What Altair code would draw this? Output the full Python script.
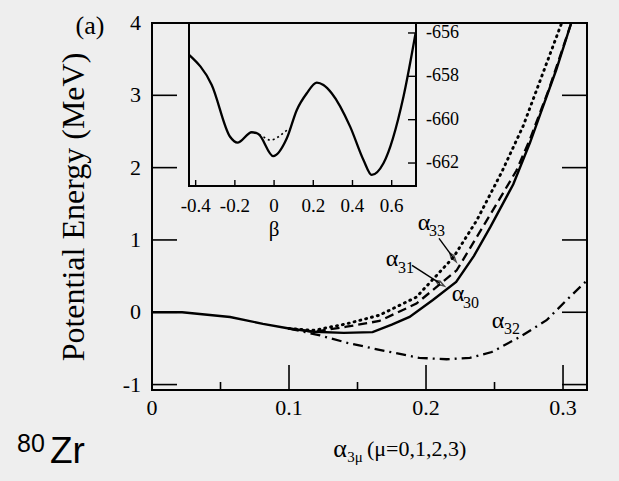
import altair as alt
import pandas as pd

# ---------------- main panel data (alpha_3mu, potential energy in MeV) -------------
a30_x = [0, 0.022, 0.033, 0.057, 0.081, 0.1, 0.118, 0.14, 0.161, 0.175, 0.188, 0.205,
         0.222, 0.235, 0.247, 0.2637, 0.276, 0.283, 0.295, 0.306, 0.312]
a30_y = [0, 0, -0.02, -0.065, -0.16, -0.225, -0.27, -0.285, -0.275, -0.17, -0.065, 0.17,
         0.42, 0.78, 1.18, 1.77, 2.35, 2.72, 3.35, 4.0, 4.3]

a31_x = [0.1, 0.118, 0.142, 0.166, 0.193, 0.2224, 0.2516, 0.266, 0.276, 0.29, 0.306, 0.312]
a31_y = [-0.225, -0.27, -0.2, -0.12, 0.12, 0.58, 1.5, 1.96, 2.4, 3.1, 4.0, 4.3]

a33_x = [0.1, 0.118, 0.142, 0.166, 0.193, 0.22, 0.237, 0.2553, 0.271, 0.299, 0.305]
a33_y = [-0.225, -0.25, -0.16, -0.04, 0.21, 0.76, 1.27, 1.94, 2.58, 4.0, 4.3]

a32_x = [0.1, 0.1226, 0.142, 0.166, 0.195, 0.215, 0.232, 0.248, 0.2686, 0.288, 0.3027, 0.318]
a32_y = [-0.225, -0.32, -0.42, -0.52, -0.63, -0.65, -0.63, -0.55, -0.34, -0.11, 0.17, 0.45]

x_major = [0.1, 0.2, 0.3]
x_minor = [0.05, 0.15, 0.25]
x_labels = [0, 0.1, 0.2, 0.3]
x_label_text = ["0", "0.1", "0.2", "0.3"]
y_major = [-1, 0, 1, 2, 3]
y_labels = [-1, 0, 1, 2, 3, 4]
y_label_text = ["-1", "0", "1", "2", "3", "4"]

# curve labels (alpha, E): main glyph and subscript
lab_main = ["α", "α", "α", "α"]
lab_sub = ["33", "31", "30", "32"]
lab_ax = [0.1985, 0.1752, 0.2234, 0.2526]
lab_ay = [1.241, 0.731, 0.248, -0.124]
lab_sx = [0.208, 0.1854, 0.2328, 0.2628]
lab_sy = [1.117, 0.607, 0.124, -0.234]

# arrows
arr_x1 = [0.2095, 0.1898]
arr_y1 = [1.021, 0.648]
arr_x2 = [0.2197, 0.2102]
arr_y2 = [0.759, 0.40]
arr_ang = [144, 123]

# ---------------- inset data (beta, energy) -------------
in_b = [-0.432, -0.318, -0.2245, -0.187, -0.114, -0.08, -0.004, 0.065, 0.116, 0.167,
        0.218, 0.252, 0.294, 0.388, 0.456, 0.498, 0.558, 0.66, 0.722]
in_e = [-657.02, -658.40, -660.79, -661.06, -660.58, -660.66, -661.68, -660.86, -659.55,
        -658.78, -658.29, -658.4, -658.78, -660.32, -661.86, -662.55, -662.01, -658.94,
        -656.0]
dot_b = [-0.1, -0.063, -0.02, 0.022, 0.056, 0.08]
dot_e = [-660.6, -660.75, -660.94, -660.79, -660.55, -660.42]
in_xt = [-0.4, -0.2, 0, 0.2, 0.4, 0.6]
in_xt_text = ["-0.4", "-0.2", "0", "0.2", "0.4", "0.6"]
in_yt = [-656, -658, -660, -662]
in_yt_text = ["-656", "-658", "-660", "-662"]

SERIF = "Liberation Serif"
W, H = 435, 367
BG = "#eeeeee"

xs = alt.Scale(domain=[0, 0.3175], nice=False, zero=False)
ys = alt.Scale(domain=[-1.075, 4.0], nice=False, zero=False)

ax_y = alt.Axis(orient="left", labels=False, ticks=False, tickSize=0, domain=False, grid=False,
                title="Potential Energy (MeV)", titleFont=SERIF, titleFontSize=32,
                titleFontWeight="normal", titleColor="black", titleX=-79, titleY=183.5,
                titleAngle=270, titleAlign="center", titleBaseline="middle")

X = lambda f: alt.X(f, type="quantitative", scale=xs, axis=None)
Y = lambda f: alt.Y(f, type="quantitative", scale=ys, axis=ax_y)

def curve(xv, yv, dash, width=2.2, cap="butt"):
    d = pd.DataFrame({"a": xv, "e": yv, "o": range(len(xv))})
    props = dict(color="black", strokeWidth=width, clip=True, strokeCap=cap)
    if dash:
        props["strokeDash"] = dash
    return alt.Chart(d).mark_line(**props).encode(x=X("a"), y=Y("e"), order="o:Q")

main_curves = [
    curve(a30_x, a30_y, None, 2.4),
    curve(a31_x, a31_y, [9, 5], 2.3),
    curve(a33_x, a33_y, [1, 5], 2.9, "round"),
    curve(a32_x, a32_y, [10, 5, 2, 5], 2.3),
]

# inward ticks
tx_major = alt.Chart(pd.DataFrame({"a": x_major})).mark_rule(color="black", strokeWidth=1.6).encode(
    x=X("a"), y=alt.value(H), y2=alt.value(H - 25))
tx_minor = alt.Chart(pd.DataFrame({"a": x_minor})).mark_rule(color="black", strokeWidth=1.6).encode(
    x=X("a"), y=alt.value(H), y2=alt.value(H - 8))
ty_left = alt.Chart(pd.DataFrame({"e": y_major})).mark_rule(color="black", strokeWidth=1.6).encode(
    y=Y("e"), x=alt.value(0), x2=alt.value(25))
ty_right = alt.Chart(pd.DataFrame({"e": y_major})).mark_rule(color="black", strokeWidth=1.6).encode(
    y=Y("e"), x=alt.value(W - 25), x2=alt.value(W))

# tick labels
xl = alt.Chart(pd.DataFrame({"a": x_labels, "t": x_label_text})).mark_text(
    font=SERIF, fontSize=22, color="black", align="center", baseline="top").encode(
    x=X("a"), y=alt.value(H + 8), text="t:N")
yl = alt.Chart(pd.DataFrame({"e": y_labels, "t": y_label_text})).mark_text(
    font=SERIF, fontSize=22, color="black", align="right", baseline="middle").encode(
    y=Y("e"), x=alt.value(-11), text="t:N")

# curve labels
lab_df = pd.DataFrame({"ax": lab_ax, "ay": lab_ay, "sx": lab_sx, "sy": lab_sy,
                       "m": lab_main, "s": lab_sub})
lab_big = alt.Chart(lab_df).mark_text(font=SERIF, fontSize=24, color="black",
                                      align="center", baseline="middle").encode(
    x=X("ax"), y=Y("ay"), text="m:N")
lab_small = alt.Chart(lab_df).mark_text(font=SERIF, fontSize=16, color="black",
                                        align="center", baseline="middle").encode(
    x=X("sx"), y=Y("sy"), text="s:N")

arr_df = pd.DataFrame({"x1": arr_x1, "y1": arr_y1, "x2": arr_x2, "y2": arr_y2, "ang": arr_ang})
arr_line = alt.Chart(arr_df).mark_rule(color="black", strokeWidth=1.4).encode(
    x=X("x1"), y=Y("y1"), x2="x2", y2="y2")
arr_head = alt.Chart(arr_df).mark_point(shape="M0,-1L0.35,0.2L0,1L-0.35,0.2Z", size=110,
                                        filled=False, color="black", strokeWidth=1.4).encode(
    x=X("x2"), y=Y("y2"), angle=alt.Angle("ang:Q", scale=None))

one = pd.DataFrame({"k": [0]})
def txt(s, x, y, size, font=SERIF, align="left", base="alphabetic"):
    return alt.Chart(one).mark_text(
        text=s, font=font, fontSize=size, color="black", align=align, baseline=base).encode(
        x=alt.value(x), y=alt.value(y))

extra = [
    txt("(a)", -62, 3, 26, align="center", base="middle"),
    txt("α", 188, 426, 26, align="center", base="middle"),
    txt("3μ", 203, 434, 15, align="center", base="middle"),
    txt("(μ=0,1,2,3)", 215, 426, 22, align="left", base="middle"),
    txt("80", -135, 429, 25, font="Liberation Sans"),
    txt("Zr", -102, 440, 37, font="Liberation Sans"),
]

main = alt.layer(*main_curves, tx_major, tx_minor, ty_left, ty_right, xl, yl,
                 arr_line, arr_head, lab_big, lab_small, *extra)

# ---------------- inset ----------------
IX0, IX1, IY1 = 37, 264, 163
bs = alt.Scale(domain=[-0.434, 0.724], range=[IX0, IX1], nice=False, zero=False)
es = alt.Scale(domain=[-663.06, -655.54], range=[IY1, 0], nice=False, zero=False)
BX = lambda f: alt.X(f, type="quantitative", scale=bs, axis=None)
BY = lambda f: alt.Y(f, type="quantitative", scale=es, axis=None)

frame = alt.Chart(one).mark_rect(fill=BG, stroke="black", strokeWidth=2).encode(
    x=alt.value(IX0), x2=alt.value(IX1), y=alt.value(0), y2=alt.value(IY1))
in_solid = alt.Chart(pd.DataFrame({"b": in_b, "e": in_e})).mark_line(
    color="black", strokeWidth=2.3, clip=True, interpolate="monotone").encode(
    x=BX("b"), y=BY("e"))
in_dot = alt.Chart(pd.DataFrame({"b": dot_b, "e": dot_e})).mark_line(
    color="black", strokeWidth=1.6, strokeDash=[2, 3], clip=True, interpolate="monotone").encode(
    x=BX("b"), y=BY("e"))
in_tx = alt.Chart(pd.DataFrame({"b": in_xt})).mark_rule(color="black", strokeWidth=1.4).encode(
    x=BX("b"), y=alt.value(IY1), y2=alt.value(IY1 - 6))
in_ty = alt.Chart(pd.DataFrame({"e": in_yt})).mark_rule(color="black", strokeWidth=1.4).encode(
    y=BY("e"), x=alt.value(IX1 - 8), x2=alt.value(IX1))
in_xl = alt.Chart(pd.DataFrame({"b": in_xt, "t": in_xt_text})).mark_text(
    font=SERIF, fontSize=19, color="black", align="center", baseline="top").encode(
    x=BX("b"), y=alt.value(IY1 + 11), text="t:N")
in_yl = alt.Chart(pd.DataFrame({"e": in_yt, "t": in_yt_text})).mark_text(
    font=SERIF, fontSize=18, color="black", align="left", baseline="middle").encode(
    y=BY("e"), x=alt.value(IX1 + 10), text="t:N")
in_title = txt("β", 122, 207, 21, align="center", base="middle")

inset = alt.layer(frame, in_dot, in_solid, in_tx, in_ty, in_xl, in_yl, in_title)

chart = alt.layer(main, inset).resolve_scale(x="independent", y="independent").properties(
    width=W, height=H,
    autosize=alt.AutoSizeParams(type="none"),
    padding={"left": 152, "top": 23, "right": 32, "bottom": 91},
    background=BG,
).configure_view(stroke="black", strokeWidth=2)

chart.save("out.html", embed_options={"renderer": "svg", "actions": False})
